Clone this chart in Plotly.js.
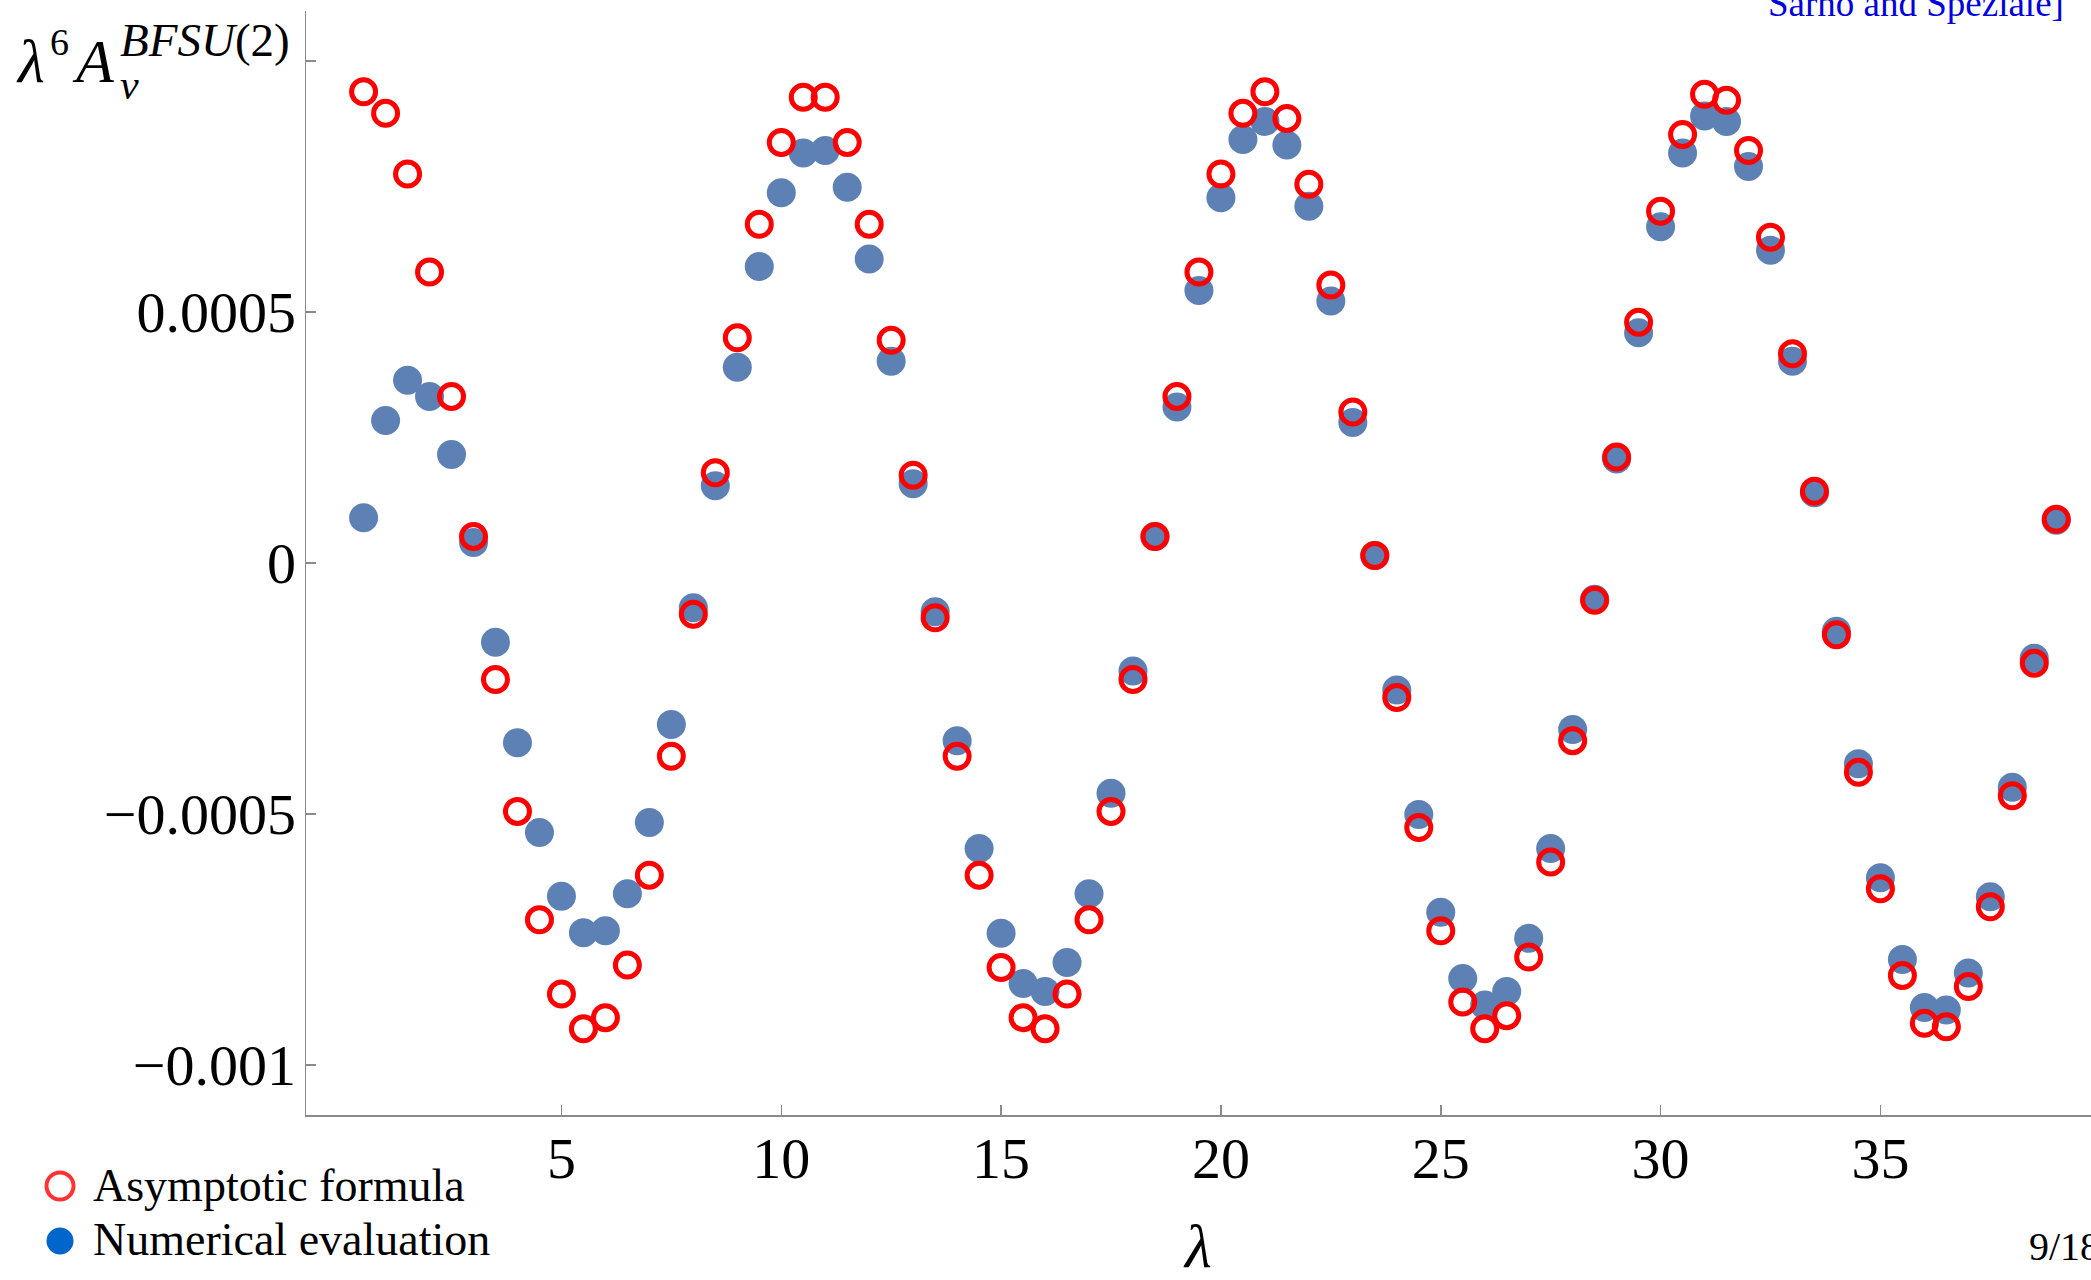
<!DOCTYPE html>
<html>
<head>
<meta charset="utf-8">
<script src="https://cdn.plot.ly/plotly-3.0.1.min.js"></script>
<style>
  html, body { margin: 0; padding: 0; background: #ffffff; }
  #chart { width: 2091px; height: 1280px; }
</style>
</head>
<body>
<div id="chart"></div>
<script>
// ---- data ----
const lambdaValues = [
  0.5, 1, 1.5, 2, 2.5, 3, 3.5, 4, 4.5, 5, 5.5, 6, 6.5, 7, 7.5, 8, 8.5, 9, 9.5, 10,
  10.5, 11, 11.5, 12, 12.5, 13, 13.5, 14, 14.5, 15, 15.5, 16, 16.5, 17, 17.5, 18, 18.5, 19, 19.5, 20,
  20.5, 21, 21.5, 22, 22.5, 23, 23.5, 24, 24.5, 25, 25.5, 26, 26.5, 27, 27.5, 28, 28.5, 29, 29.5, 30,
  30.5, 31, 31.5, 32, 32.5, 33, 33.5, 34, 34.5, 35, 35.5, 36, 36.5, 37, 37.5, 38, 38.5, 39
];

const asymptoticFormula = [
  9.39e-4, 8.96e-4, 7.75e-4, 5.80e-4, 3.32e-4, 0.53e-4, -2.32e-4, -4.95e-4, -7.11e-4, -8.59e-4,
  -9.28e-4, -9.06e-4, -8.01e-4, -6.22e-4, -3.85e-4, -1.02e-4, 1.80e-4, 4.49e-4, 6.75e-4, 8.38e-4,
  9.28e-4, 9.28e-4, 8.38e-4, 6.75e-4, 4.44e-4, 1.75e-4, -1.09e-4, -3.85e-4, -6.22e-4, -8.06e-4,
  -9.06e-4, -9.28e-4, -8.59e-4, -7.11e-4, -4.95e-4, -2.32e-4, 0.53e-4, 3.32e-4, 5.80e-4, 7.75e-4,
  8.96e-4, 9.39e-4, 8.86e-4, 7.55e-4, 5.54e-4, 3.01e-4, 0.15e-4, -2.68e-4, -5.27e-4, -7.33e-4,
  -8.75e-4, -9.28e-4, -9.02e-4, -7.85e-4, -5.96e-4, -3.54e-4, -0.74e-4, 2.11e-4, 4.80e-4, 7.01e-4,
  8.54e-4, 9.34e-4, 9.22e-4, 8.22e-4, 6.49e-4, 4.17e-4, 1.43e-4, -1.43e-4, -4.17e-4, -6.49e-4,
  -8.22e-4, -9.17e-4, -9.24e-4, -8.44e-4, -6.85e-4, -4.64e-4, -2.00e-4, 0.87e-4
];

const numericalEvaluation = [
  0.90e-4, 2.84e-4, 3.64e-4, 3.32e-4, 2.16e-4, 0.41e-4, -1.58e-4, -3.58e-4, -5.37e-4, -6.64e-4,
  -7.37e-4, -7.33e-4, -6.59e-4, -5.17e-4, -3.22e-4, -0.89e-4, 1.54e-4, 3.90e-4, 5.91e-4, 7.38e-4,
  8.17e-4, 8.22e-4, 7.49e-4, 6.06e-4, 4.02e-4, 1.58e-4, -0.97e-4, -3.54e-4, -5.69e-4, -7.38e-4,
  -8.38e-4, -8.54e-4, -7.96e-4, -6.59e-4, -4.59e-4, -2.15e-4, 0.53e-4, 3.11e-4, 5.43e-4, 7.28e-4,
  8.44e-4, 8.80e-4, 8.33e-4, 7.11e-4, 5.22e-4, 2.80e-4, 0.15e-4, -2.53e-4, -5.01e-4, -6.96e-4,
  -8.28e-4, -8.81e-4, -8.54e-4, -7.48e-4, -5.69e-4, -3.32e-4, -0.72e-4, 2.07e-4, 4.59e-4, 6.70e-4,
  8.17e-4, 8.91e-4, 8.80e-4, 7.90e-4, 6.23e-4, 4.02e-4, 1.40e-4, -1.36e-4, -4.00e-4, -6.27e-4,
  -7.90e-4, -8.86e-4, -8.91e-4, -8.17e-4, -6.65e-4, -4.47e-4, -1.90e-4, 0.85e-4
];

const xTickValues = [5, 10, 15, 20, 25, 30, 35];
const yTickValues = [-0.001, -0.0005, 0, 0.0005, 0.001];
const yTickLabels = ['\u22120.001', '\u22120.0005', '0', '0.0005', ''];
const seriesNames = ['Asymptotic formula', 'Numerical evaluation'];

// ---- layout helpers (pixel -> paper coordinates) ----
const W = 2091, H = 1280;
const M = { l: 306, r: 0, t: 11, b: 165 };
const plotW = W - M.l - M.r, plotH = H - M.t - M.b;
const px = x => (x - M.l) / plotW;
const py = y => (H - M.b - y) / plotH;

const FONT = 'Liberation Serif, Times New Roman, serif';
const AXIS_GRAY = '#8a8a8a';

const traces = [
  {
    type: 'scatter', mode: 'markers', name: seriesNames[1],
    x: lambdaValues, y: numericalEvaluation,
    marker: { symbol: 'circle', size: 29, color: 'rgb(94,129,181)', line: { width: 0 } },
    showlegend: false, cliponaxis: false
  },
  {
    type: 'scatter', mode: 'markers', name: seriesNames[0],
    x: lambdaValues, y: asymptoticFormula,
    marker: { symbol: 'circle-open', size: 24, color: 'rgb(255,0,0)', line: { width: 5, color: 'rgb(255,0,0)' } },
    showlegend: false, cliponaxis: false
  }
];

function ann(text, xPix, yPix, size, extra) {
  return Object.assign({
    text: text, xref: 'paper', yref: 'paper', x: px(xPix), y: py(yPix),
    xanchor: 'left', yanchor: 'middle', showarrow: false,
    font: { family: FONT, size: size, color: '#000000' }
  }, extra || {});
}

const annotations = [
  // y-axis label  λ^6 A_v^{BFSU(2)}
  ann('<i>λ</i>', 14, 61, 62),
  ann('6', 48, 42, 38),
  ann('<i>A</i>', 70, 61, 62),
  ann('<i>BFSU</i>(2)', 118, 40, 47),
  ann('<i>v</i>', 118, 85, 42),
  // legend text
  ann(seriesNames[0], 91, 1185, 46),
  ann(seriesNames[1], 91, 1239, 46),
  // slide fragments
  ann('Sarno and Speziale]', 1766, 4, 37, { font: { family: FONT, size: 37, color: '#0000DD' } }),
  ann('9/18', 2027, 1246, 40)
];

const shapes = [
  { type: 'circle', xref: 'paper', yref: 'paper', xsizemode: 'pixel', ysizemode: 'pixel',
    xanchor: px(60), yanchor: py(1186), x0: -13.5, x1: 13.5, y0: -13.5, y1: 13.5,
    line: { color: '#FF3333', width: 4 }, fillcolor: 'rgba(0,0,0,0)' },
  { type: 'circle', xref: 'paper', yref: 'paper', xsizemode: 'pixel', ysizemode: 'pixel',
    xanchor: px(60), yanchor: py(1241), x0: -13.5, x1: 13.5, y0: -13.5, y1: 13.5,
    line: { color: '#0066CC', width: 0 }, fillcolor: '#0066CC' }
];

const layout = {
  width: W, height: H,
  margin: M,
  paper_bgcolor: '#ffffff', plot_bgcolor: '#ffffff',
  showlegend: false,
  font: { family: FONT, color: '#000000' },
  xaxis: {
    range: [-0.81, 39.79],
    tickmode: 'array', tickvals: xTickValues,
    ticks: 'inside', ticklen: 10, tickwidth: 1.5, tickcolor: AXIS_GRAY,
    showline: true, linecolor: AXIS_GRAY, linewidth: 1.5,
    showgrid: false, zeroline: false, mirror: false,
    tickfont: { family: FONT, size: 58, color: '#000000' },
    ticklabelstandoff: -8,
    title: { text: '<i>λ</i>', font: { family: FONT, size: 62, color: '#000000' }, standoff: 48 },
    automargin: false
  },
  yaxis: {
    range: [-0.0011, 0.0011],
    tickmode: 'array', tickvals: yTickValues, ticktext: yTickLabels,
    ticks: 'inside', ticklen: 10, tickwidth: 1.5, tickcolor: AXIS_GRAY,
    showline: true, linecolor: AXIS_GRAY, linewidth: 1.5,
    showgrid: false, zeroline: false, mirror: false,
    tickfont: { family: FONT, size: 58, color: '#000000' },
    ticklabelstandoff: -3,
    automargin: false
  },
  annotations: annotations,
  shapes: shapes
};

Plotly.newPlot('chart', traces, layout, { staticPlot: true, displayModeBar: false });
</script>
</body>
</html>
